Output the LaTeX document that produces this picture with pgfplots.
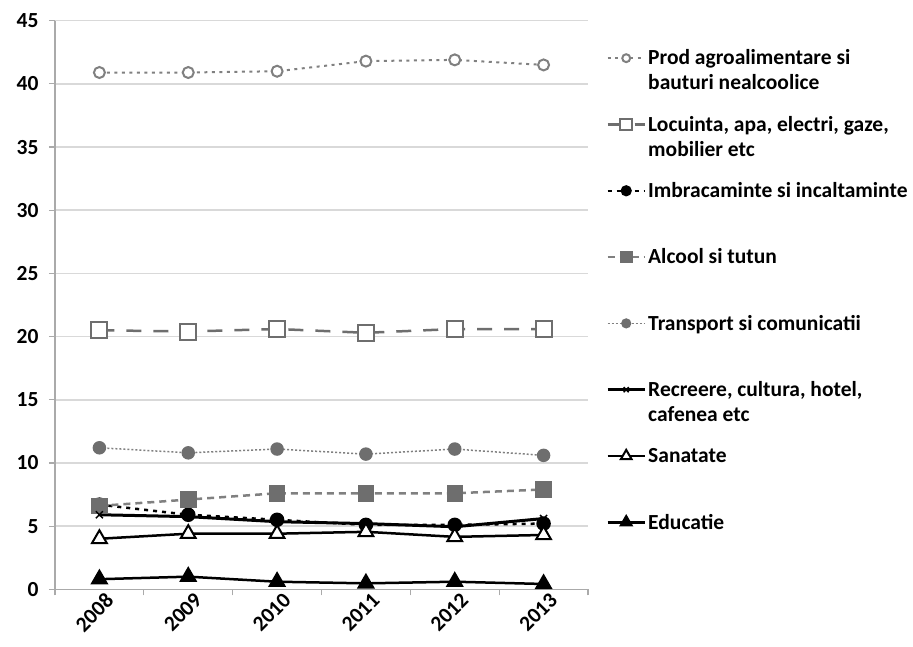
\documentclass[border=0pt]{standalone}
\usepackage{pgfplots}
\pgfplotsset{compat=1.18}
\usepackage{fontspec}
\setmainfont{Carlito}
\definecolor{gridc}{RGB}{217,217,217}
\definecolor{axc}{RGB}{170,170,170}
\definecolor{gA}{RGB}{128,128,128}
\definecolor{gB}{RGB}{110,110,110}
\begin{document}
\begin{tikzpicture}[font=\fontsize{21.5bp}{25bp}\selectfont\bfseries]
\path[use as bounding box] (0,0) rectangle (913bp,647bp);
\begin{axis}[
    at={(55bp,57.7bp)}, anchor=south west,
    scale only axis, width=533bp, height=568.6bp,
    xmin=-0.5, xmax=5.5, ymin=0, ymax=45,
    xtick={0,...,5}, xticklabels={2008,2009,2010,2011,2012,2013},
    minor xtick={-0.5,0.5,...,5.5},
    ytick={0,5,...,45}, minor ytick={0,5,...,45},
    major tick length=0pt, minor tick length=6bp, tick align=outside,
    minor tick style={draw=axc, line width=1.2bp},
    axis lines*=left,
    axis line style={draw=axc, line width=1.5bp},
    ymajorgrids, major grid style={draw=gridc, line width=1.5bp},
    /pgf/number format/assume math mode=true,
    yticklabel style={xshift=-13bp},
    xticklabel style={rotate=45, anchor=north east, inner sep=0bp, xshift=2bp, yshift=-5bp},
    legend image code/.code={\draw[mark repeat=2,mark phase=2,#1,every mark/.append style={scale=0.72}] plot coordinates {(0bp,0bp) (18.5bp,0bp) (37bp,0bp)};},
    legend cell align=left,
    legend style={at={(1.0338,0.9573)}, anchor=north west, draw=none, fill=none,
        inner xsep=0pt, inner ysep=0pt, row sep=40.3bp, column sep=0pt,
        nodes={inner sep=2bp, text height=13.5bp, text depth=0bp, minimum height=26bp}},
]
% Prod agroalimentare
\addplot[gA, line width=2bp, dash pattern=on 3bp off 4.5bp,
    mark=*, mark size=5.5bp, mark options={solid, fill=white, draw=gA, line width=2bp}]
    coordinates {(0,40.9) (1,40.9) (2,41.0) (3,41.8) (4,41.9) (5,41.5)};
\addlegendentry{\begin{tabular}[t]{@{}l@{}}Prod agroalimentare si\\bauturi nealcoolice\end{tabular}}
% Locuinta
\addplot[gB, line width=2.5bp, dash pattern=on 15bp off 12bp,
    mark=square*, mark size=8bp, mark options={solid, fill=white, draw=gB, line width=2bp}]
    coordinates {(0,20.5) (1,20.4) (2,20.6) (3,20.3) (4,20.6) (5,20.6)};
\addlegendentry{\begin{tabular}[t]{@{}l@{}}Locuinta, apa, electri, gaze,\\mobilier etc\end{tabular}}
% Imbracaminte
\addplot[black, line width=2.5bp, dash pattern=on 4bp off 5bp,
    mark=*, mark size=6bp, mark options={solid, fill=black}]
    coordinates {(0,6.7) (1,5.9) (2,5.5) (3,5.1) (4,5.1) (5,5.2)};
\addlegendentry{Imbracaminte si incaltaminte}
% Alcool
\addplot[gA, line width=2.5bp, dash pattern=on 7bp off 5bp,
    mark=square*, mark size=7bp, mark options={solid, fill=gB, draw=gB}]
    coordinates {(0,6.6) (1,7.1) (2,7.6) (3,7.6) (4,7.6) (5,7.9)};
\addlegendentry{Alcool si tutun}
% Transport
\addplot[gA, line width=1.5bp, dash pattern=on 2bp off 2bp,
    mark=*, mark size=6bp, mark options={solid, fill=gB, draw=gB}]
    coordinates {(0,11.2) (1,10.8) (2,11.1) (3,10.7) (4,11.1) (5,10.6)};
\addlegendentry{Transport si comunicatii}
% Recreere
\addplot[black, line width=3bp,
    mark=x, mark size=5bp, mark options={solid, line width=1.5bp}]
    coordinates {(0,5.9) (1,5.75) (2,5.35) (3,5.2) (4,4.95) (5,5.6)};
\addlegendentry{\begin{tabular}[t]{@{}l@{}}Recreere, cultura, hotel,\\cafenea etc\end{tabular}}
% Sanatate
\addplot[black, line width=2.5bp,
    mark=triangle*, mark size=8.5bp, mark options={solid, fill=white, draw=black, line width=2bp}]
    coordinates {(0,4.0) (1,4.4) (2,4.4) (3,4.55) (4,4.15) (5,4.3)};
\addlegendentry{Sanatate}
% Educatie
\addplot[black, line width=2.5bp,
    mark=triangle*, mark size=8bp, mark options={solid, fill=black}]
    coordinates {(0,0.8) (1,1.0) (2,0.6) (3,0.47) (4,0.6) (5,0.42)};
\addlegendentry{Educatie}
\end{axis}
\end{tikzpicture}
\end{document}
